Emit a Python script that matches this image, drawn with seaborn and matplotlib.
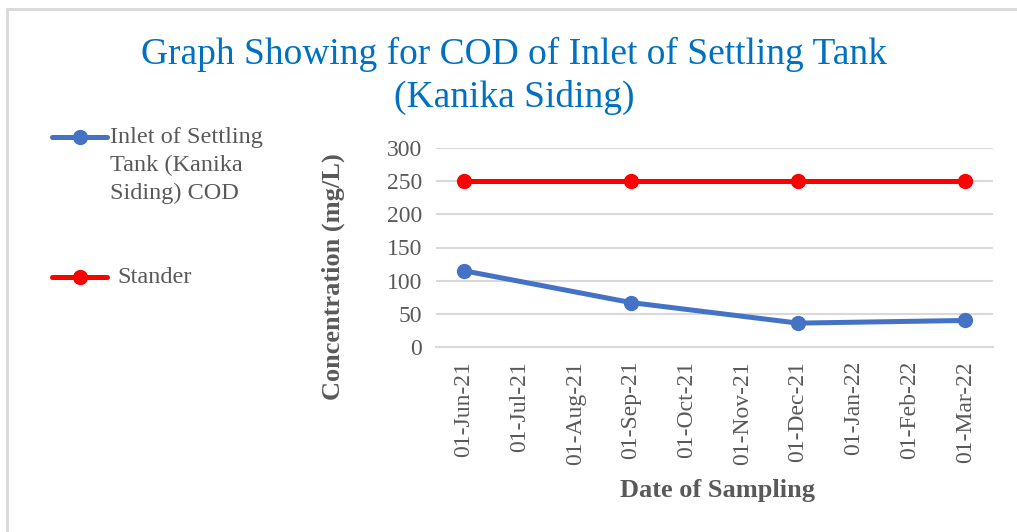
import matplotlib
matplotlib.use("Agg")
import matplotlib.pyplot as plt
from matplotlib.lines import Line2D
import seaborn as sns
import pandas as pd
import numpy as np

# Monthly categories on the date axis
month_labels = ["01-Jun-21", "01-Jul-21", "01-Aug-21", "01-Sep-21", "01-Oct-21",
                "01-Nov-21", "01-Dec-21", "01-Jan-22", "01-Feb-22", "01-Mar-22"]

# Sampling dates and measured values
sample_dates = ["01-Jun-21", "01-Sep-21", "01-Dec-21", "01-Mar-22"]
cod_inlet = [115, 67, 36, 40]
cod_standard = [250, 250, 250, 250]

series_inlet = "Inlet of Settling\nTank (Kanika\nSiding) COD"
series_std = "Stander"

y_ticks = [0, 50, 100, 150, 200, 250, 300]

BLUE = "#4472C4"
RED = "#FF0000"
GRAY_TEXT = "#595959"
GRID = "#D9D9D9"
TITLE_BLUE = "#0070C0"

sns.set_theme(style="white")
plt.rcParams["font.family"] = ["Liberation Serif", "DejaVu Serif"]

pos = [month_labels.index(d) for d in sample_dates]
df = pd.DataFrame({
    "pos": pos * 2,
    "value": cod_inlet + cod_standard,
    "series": [series_inlet] * len(pos) + [series_std] * len(pos),
})

W, H = 1017, 532
fig = plt.figure(figsize=(W / 100, H / 100), dpi=100)
ax = fig.add_axes([436 / W, 1 - 347 / H, (993 - 436) / W, (347 - 148) / H])

LW = 3.6
MS = 11

sns.lineplot(data=df, x="pos", y="value", hue="series",
             palette={series_inlet: BLUE, series_std: RED},
             hue_order=[series_inlet, series_std],
             marker="o", markersize=MS, markeredgewidth=0,
             linewidth=LW, legend=False, ax=ax, zorder=3)

ax.set_ylim(0, 300)
ax.set_yticks(y_ticks)
ax.set_yticklabels([str(v) for v in y_ticks], fontsize=17, color=GRAY_TEXT)
ax.yaxis.grid(True, color=GRID, linewidth=1.5)
ax.set_axisbelow(True)

n = len(month_labels)
ax.set_xlim(-0.5, n - 0.5)
ax.set_xticks(np.arange(n))
ax.set_xticklabels(month_labels, rotation=90, fontsize=17, color=GRAY_TEXT)
ax.set_xticks(np.arange(n + 1) - 0.5, minor=True)
ax.tick_params(axis="x", which="major", length=0, pad=10)
ax.tick_params(axis="x", which="minor", length=7, width=1.5, color=GRID, direction="out")
ax.tick_params(axis="y", length=0, pad=10)

for side in ["left", "right", "top"]:
    ax.spines[side].set_visible(False)
ax.spines["bottom"].set_color(GRID)
ax.spines["bottom"].set_linewidth(1.5)

ax.set_xlabel("Date of Sampling", fontsize=19, fontweight="bold", color=GRAY_TEXT)
ax.set_ylabel("Concentration (mg/L)", fontsize=19, fontweight="bold", color=GRAY_TEXT)
ax.xaxis.set_label_coords((718 - 436) / 557, (347 - 490) / 199)
ax.yaxis.set_label_coords((333 - 436) / 557, (347 - 277) / 199)
ax.xaxis.label.set_va("center")
ax.yaxis.label.set_va("center")

fig.text(514 / W, 1 - 76 / H, "Graph Showing for COD of Inlet of Settling Tank\n(Kanika Siding)",
         ha="center", va="center", fontsize=27, color=TITLE_BLUE, linespacing=1.32)


# Legend on the left side of the chart
def legend_entry(y_px, color, label, text_x_px):
    yf = 1 - y_px / H
    fig.add_artist(Line2D([52 / W, 107 / W], [yf, yf], color=color, linewidth=LW,
                          solid_capstyle="round"))
    fig.add_artist(Line2D([80 / W], [yf], color=color, marker="o", markersize=MS,
                          markeredgewidth=0))
    fig.text(text_x_px / W, 1 - (y_px - 10) / H, label, ha="left", va="top", fontsize=17.5,
             color=GRAY_TEXT, linespacing=1.42)


legend_entry(137, BLUE, series_inlet, 110)
legend_entry(277, RED, series_std, 117)

# Chart frame
fig.add_artist(Line2D([7 / W, 1], [1 - 9 / H, 1 - 9 / H], color=GRID, linewidth=2))
fig.add_artist(Line2D([7 / W, 7 / W], [0, 1 - 9 / H], color=GRID, linewidth=2))

fig.savefig("out.png", dpi=100)
